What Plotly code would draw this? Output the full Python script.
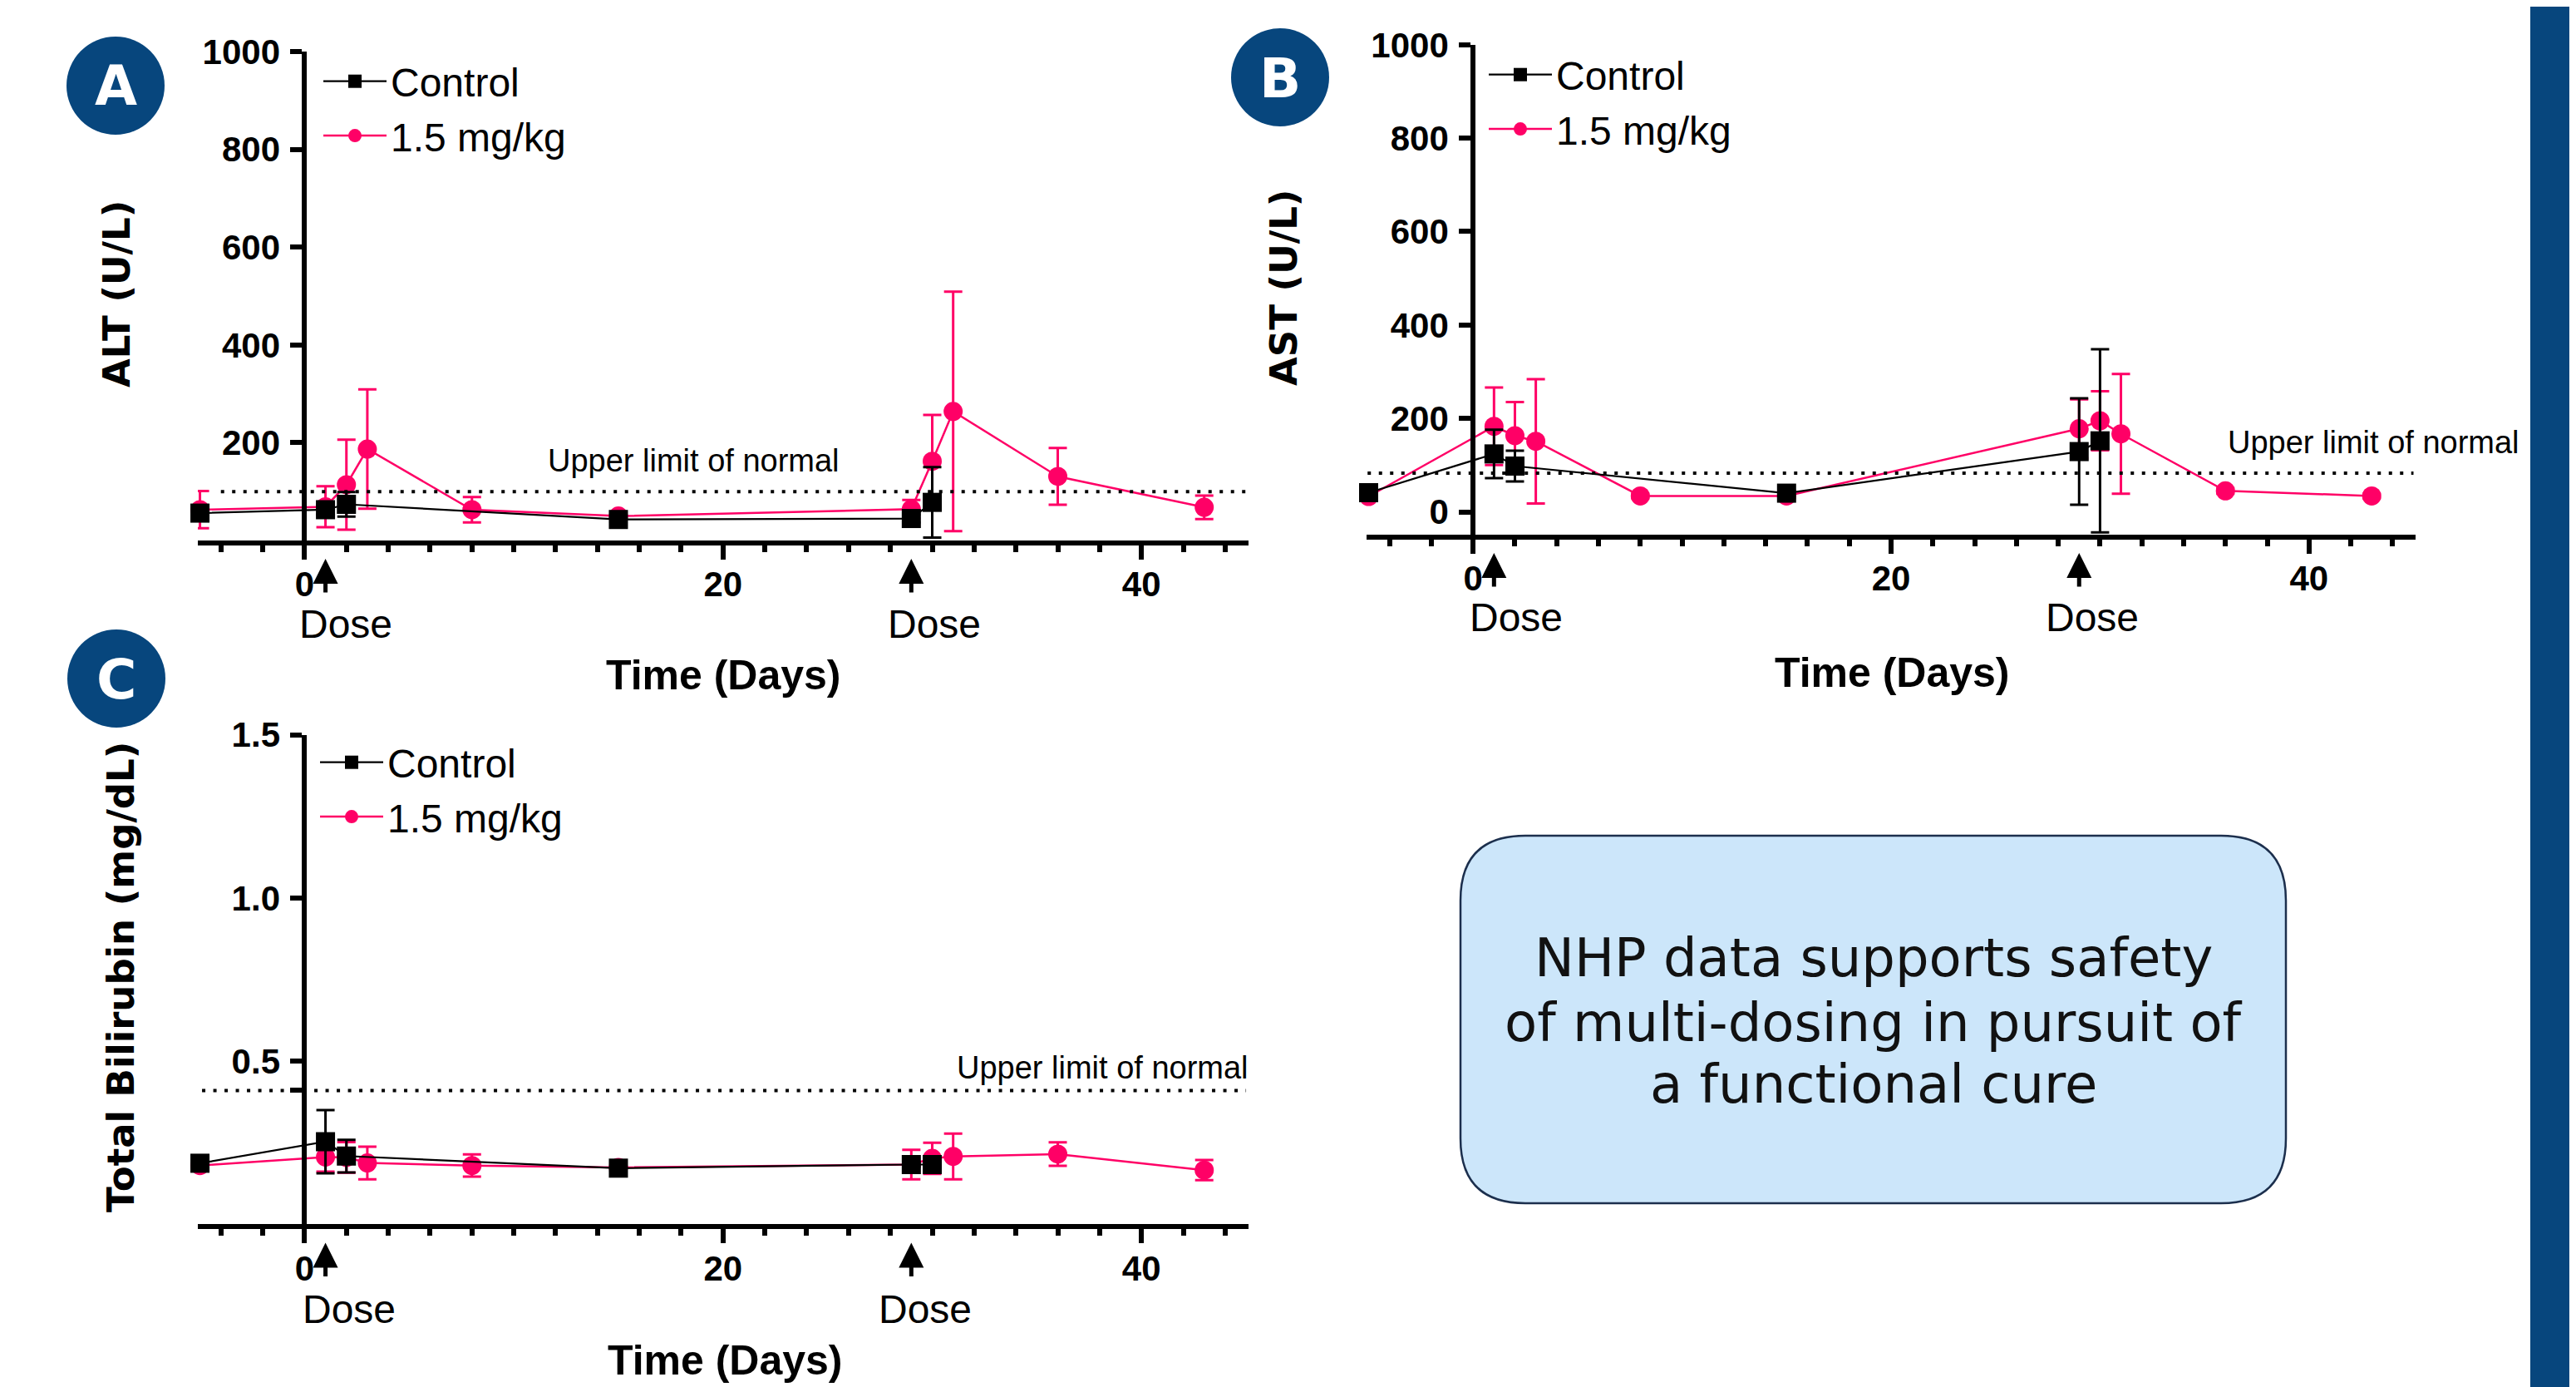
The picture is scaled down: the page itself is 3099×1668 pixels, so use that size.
import plotly.graph_objects as go

W, H = 3099, 1668

# ---------------- data ----------------
days_ctrl = [-5, 1, 2, 15, 29, 30]
days_dose = [-5, 1, 2, 3, 8, 15, 29, 30, 31, 36, 43]
dose_days = [1, 29]

alt_ctrl = [56, 63, 74, 43, 45, 78]
alt_ctrl_err = [6, 10, 25, 5, 8, 72]
alt_dose = [63, 69, 114, 187, 63, 50, 64, 162, 264, 131, 68]
alt_dose_err = [38, 42, 92, 122, 26, 6, 19, 95, 245, 58, 24]
alt_uln = 100

ast_ctrl = [41, 124, 98, 40, 129, 152]
ast_ctrl_err = [5, 52, 33, 5, 114, 196]
ast_dose = [33, 183, 163, 151, 34, 34, 178, 195, 167, 45, 34]
ast_dose_err = [5, 83, 72, 133, 5, 5, 63, 63, 128, 6, 5]
ast_uln = 83

bili_ctrl = [0.187, 0.253, 0.209, 0.172, 0.183, 0.183]
bili_ctrl_err = [0.008, 0.097, 0.05, 0.008, 0.008, 0.008]
bili_dose = [0.180, 0.206, 0.205, 0.188, 0.180, 0.174, 0.183, 0.202, 0.208, 0.215, 0.166]
bili_dose_err = [0.008, 0.045, 0.047, 0.05, 0.034, 0.008, 0.045, 0.048, 0.07, 0.036, 0.031]
bili_uln = 0.41

series_names = ["Control", "1.5 mg/kg"]
x_ticks = [0, 20, 40]
alt_ticks = [200, 400, 600, 800, 1000]
ast_ticks = [0, 200, 400, 600, 800, 1000]
bili_ticks = [0.5, 1.0, 1.5]
bili_ticktext = ["0.5", "1.0", "1.5"]

BLACK = "#000000"
PINK = "#ff0066"
NAVY = "#07467d"

OFF = 8  # page body margin offset


def fx(p):
    return (p - OFF) / W


def fy(p):
    return 1 - (p - OFF) / H


XR = [-5.1, 45.1]
A_x0, A_ppd = 366.4, 25.17
B_x0, B_ppd = 1772.2, 25.14

fig = go.Figure()


def add_pair(xa, ya, leg, ctrl, ctrl_err, dose, dose_err):
    fig.add_trace(go.Scatter(
        x=days_dose, y=dose, name=series_names[1], mode="lines+markers",
        line=dict(color=PINK, width=2.5),
        marker=dict(symbol="circle", size=23, color=PINK),
        error_y=dict(type="data", array=dose_err, visible=True, color=PINK,
                     thickness=3, width=11),
        xaxis=xa, yaxis=ya, legend=leg, legendrank=2, cliponaxis=False))
    fig.add_trace(go.Scatter(
        x=days_ctrl, y=ctrl, name=series_names[0], mode="lines+markers",
        line=dict(color=BLACK, width=2.2),
        marker=dict(symbol="square", size=23, color=BLACK),
        error_y=dict(type="data", array=ctrl_err, visible=True, color=BLACK,
                     thickness=3, width=11),
        xaxis=xa, yaxis=ya, legend=leg, legendrank=1, cliponaxis=False))


add_pair("x", "y", "legend", alt_ctrl, alt_ctrl_err, alt_dose, alt_dose_err)
add_pair("x2", "y2", "legend2", ast_ctrl, ast_ctrl_err, ast_dose, ast_dose_err)
add_pair("x3", "y3", "legend3", bili_ctrl, bili_ctrl_err, bili_dose, bili_dose_err)

tickfont = dict(family="Liberation Sans", size=42, color="black", weight="bold")


def xaxis_cfg(x0, ppd, ydomain_anchor):
    return dict(
        domain=[fx(x0 + XR[0] * ppd), fx(x0 + XR[1] * ppd)],
        range=XR, anchor=ydomain_anchor, automargin=False,
        showline=True, linewidth=6, linecolor="black",
        tickmode="array", tickvals=x_ticks,
        ticks="outside", ticklen=17, tickwidth=6, tickcolor="black",
        minor=dict(ticks="outside", ticklen=8, tickwidth=6, tickcolor="black",
                   dtick=2, tick0=0, showgrid=False),
        showgrid=False, zeroline=False, tickfont=tickfont,
        ticklabelstandoff=-6,
    )


def yaxis_cfg(domain_px, rng, xpos, tickvals, ticktext=None):
    d = dict(
        domain=[fy(domain_px[0]), fy(domain_px[1])],
        range=rng, anchor="free", position=fx(xpos), automargin=False,
        showline=True, linewidth=6, linecolor="black",
        tickmode="array", tickvals=tickvals,
        ticks="outside", ticklen=14, tickwidth=6, tickcolor="black",
        showgrid=False, zeroline=False, tickfont=tickfont,
        ticklabelstandoff=4,
    )
    if ticktext is not None:
        d["ticktext"] = ticktext
    return d


fig.update_layout(
    width=W, height=H,
    margin=dict(l=0, r=0, t=0, b=0, pad=0, autoexpand=False),
    paper_bgcolor="white", plot_bgcolor="rgba(0,0,0,0)",
    xaxis=xaxis_cfg(A_x0, A_ppd, "y"),
    xaxis2=xaxis_cfg(B_x0, B_ppd, "y2"),
    xaxis3=xaxis_cfg(A_x0, A_ppd, "y3"),
    yaxis=yaxis_cfg([650, 62], [0, 1000], A_x0, alt_ticks),
    yaxis2=yaxis_cfg([642.5, 53.8], [-48, 1000], B_x0, ast_ticks),
    yaxis3=yaxis_cfg([1472.3, 883.6], [0, 1.5], A_x0,
                     [bili_uln] + bili_ticks, [""] + bili_ticktext),
    showlegend=True,
)

legfont = dict(family="Liberation Sans", size=48, color="black")
for name, lx, ly in [("legend", 384, 60), ("legend2", 1786, 52), ("legend3", 380, 879)]:
    fig.update_layout({name: dict(x=fx(lx), y=fy(ly), xanchor="left", yanchor="top",
                                  font=legfont, bgcolor="rgba(0,0,0,0)",
                                  itemwidth=76, borderwidth=0, tracegroupgap=0)})

shapes = []
annotations = []

# upper limit of normal lines
for xr, yr, x0, x1, v in [("x", "y", -4, 45.1, alt_uln),
                          ("x2", "y2", -5.05, 45.0, ast_uln),
                          ("x3", "y3", -4.9, 45.0, bili_uln)]:
    shapes.append(dict(type="line", xref=xr, yref=yr, x0=x0, x1=x1, y0=v, y1=v,
                       line=dict(color="black", width=4, dash="4px,9.5px")))

uln_font = dict(family="Liberation Sans", size=38, color="black")
for px_, py_ in [(834, 554), (2855, 532), (1326, 1284)]:
    annotations.append(dict(text="Upper limit of normal", x=fx(px_), y=fy(py_),
                            xref="paper", yref="paper", showarrow=False,
                            xanchor="center", yanchor="middle", font=uln_font))

# dose arrows
for xr, tip in [("x", 672), ("x2", 665), ("x3", 1494.6)]:
    for d in dose_days:
        annotations.append(dict(text="", x=d, xref=xr, y=fy(tip), yref="paper",
                                showarrow=True, arrowhead=2, arrowsize=1.2,
                                arrowwidth=5, arrowcolor="black", ax=0, ay=42,
                                standoff=0))

dose_font = dict(family="Liberation Sans", size=48, color="black")
for px_, py_ in [(416, 750), (1123.6, 750), (1824, 743), (2516.5, 743),
                 (420, 1574), (1112.6, 1574)]:
    annotations.append(dict(text="Dose", x=fx(px_), y=fy(py_), xref="paper", yref="paper",
                            showarrow=False, xanchor="center", yanchor="middle",
                            font=dose_font))

# axis titles
xt_font = dict(family="Liberation Sans", size=50, color="black", weight="bold")
for px_, py_ in [(870, 812), (2276, 809), (872, 1636)]:
    annotations.append(dict(text="Time (Days)", x=fx(px_), y=fy(py_), xref="paper",
                            yref="paper", showarrow=False, xanchor="center",
                            yanchor="middle", font=xt_font))

yt_font = dict(family="DejaVu Sans", size=45, color="black", weight="bold")
for txt, px_, py_ in [("ALT (U/L)", 140, 354), ("AST (U/L)", 1545, 346),
                      ("Total Bilirubin (mg/dL)", 145, 1175)]:
    annotations.append(dict(text=txt, x=fx(px_), y=fy(py_), xref="paper", yref="paper",
                            showarrow=False, textangle=-90, xanchor="center",
                            yanchor="middle", font=yt_font))

# panel letters
for letter, cx, cy in [("A", 139, 103), ("B", 1540, 93), ("C", 140, 816)]:
    r = 59
    shapes.append(dict(type="circle", xref="paper", yref="paper",
                       x0=fx(cx - r), x1=fx(cx + r), y0=fy(cy + r), y1=fy(cy - r),
                       fillcolor=NAVY, line=dict(width=0)))
    annotations.append(dict(text=letter, x=fx(cx), y=fy(cy + 1), xref="paper", yref="paper",
                            showarrow=False, xanchor="center", yanchor="middle",
                            font=dict(family="DejaVu Sans", size=66, color="white",
                                      weight="bold")))

# right navy bar
shapes.append(dict(type="rect", xref="paper", yref="paper", x0=fx(3044), x1=1,
                   y0=0, y1=1, fillcolor=NAVY, line=dict(width=0)))

# rounded text box
bx0, bx1, by0, by1, rr = 1757, 2750, 1005, 1447, 78
X0, X1 = fx(bx0), fx(bx1)
YT, YB = fy(by0), fy(by1)
rx, ry = rr / W, rr / H
path = (f"M{X0 + rx},{YT} L{X1 - rx},{YT} Q{X1},{YT} {X1},{YT - ry} "
        f"L{X1},{YB + ry} Q{X1},{YB} {X1 - rx},{YB} "
        f"L{X0 + rx},{YB} Q{X0},{YB} {X0},{YB + ry} "
        f"L{X0},{YT - ry} Q{X0},{YT} {X0 + rx},{YT} Z")
shapes.append(dict(type="path", xref="paper", yref="paper", path=path,
                   fillcolor="#cce6fa", line=dict(color="#1c2f4d", width=2.5)))

box_font = dict(family="DejaVu Sans", size=64, color="#111111")
for txt, py_ in [("NHP data supports safety", 1152),
                 ("of multi-dosing in pursuit of", 1230),
                 ("a functional cure", 1304)]:
    annotations.append(dict(text=txt, x=fx((bx0 + bx1) / 2), y=fy(py_), xref="paper",
                            yref="paper", showarrow=False, xanchor="center",
                            yanchor="middle", font=box_font))

fig.update_layout(shapes=shapes, annotations=annotations)
fig.write_html("out.html")
